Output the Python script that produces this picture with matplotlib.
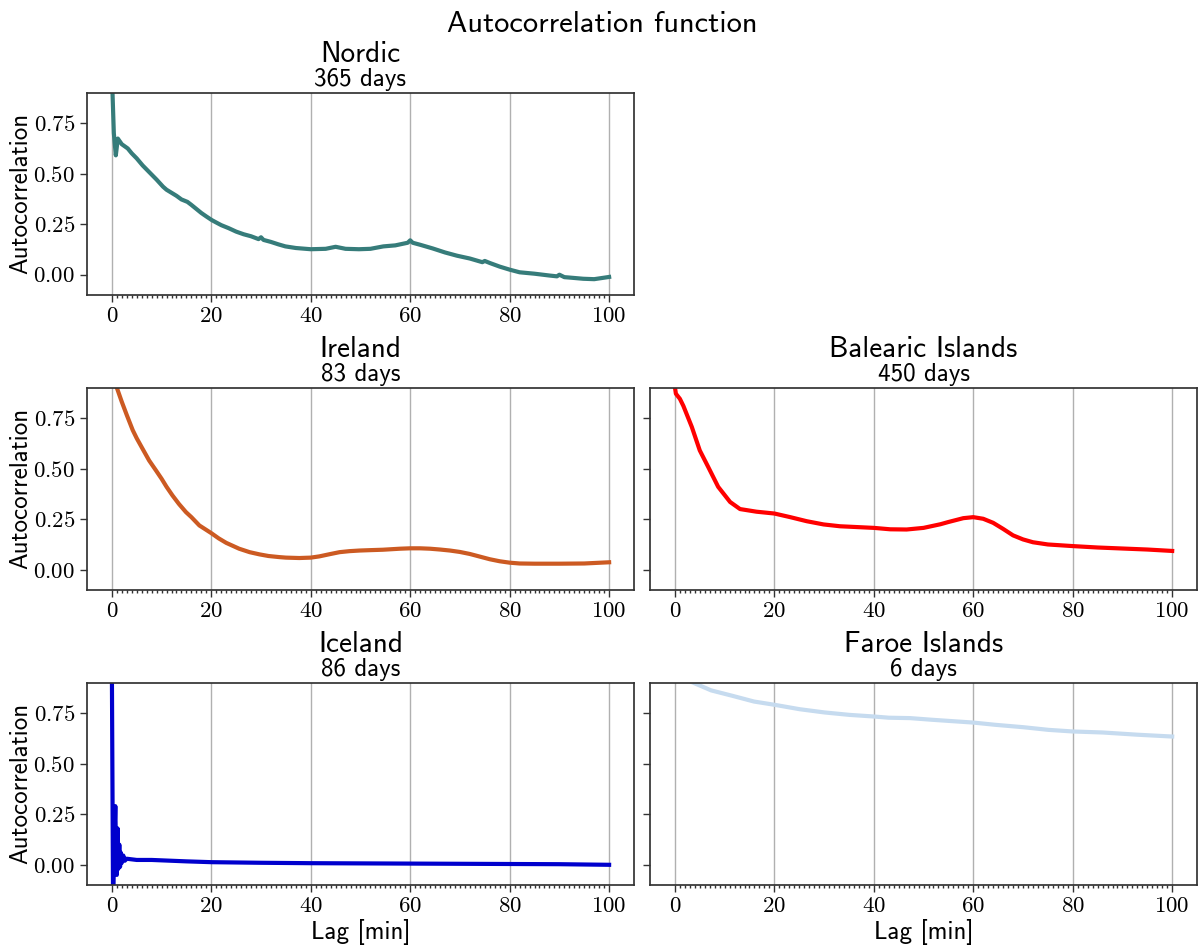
import numpy as np
import matplotlib
matplotlib.use('Agg')
import matplotlib.pyplot as plt
from matplotlib.ticker import MultipleLocator, FixedLocator

plt.rcParams['font.family'] = 'cmr10'
plt.rcParams['axes.formatter.use_mathtext'] = True
SANS = 'cmss10'

# ---- autocorrelation per area (lag in minutes)
nordic_lag = [0, 0.4, 0.8, 1.2, 2, 3.2, 4, 5, 6.2, 7, 8, 9, 10.3, 11, 12, 13, 14, 15.2, 16,
              17, 18, 19, 20.1, 21, 22, 23.5, 25, 26.5, 28, 29.5, 30, 30.5, 32, 33.5, 34.9,
              37, 40, 43, 45, 47, 49.7, 52, 54.6, 57, 59.5, 60, 60.5, 62, 64.5, 67, 69.4,
              72, 74.5, 75, 76, 78, 80, 82, 85, 88, 89.5, 90, 91, 92, 94.8, 97, 100]
nordic_acf = [1.0, 0.70, 0.59, 0.673, 0.645, 0.624, 0.60, 0.575, 0.54, 0.52, 0.495, 0.47,
              0.435, 0.42, 0.405, 0.39, 0.372, 0.36, 0.345, 0.325, 0.305, 0.288, 0.27, 0.258,
              0.245, 0.23, 0.213, 0.2, 0.19, 0.176, 0.185, 0.172, 0.162, 0.15, 0.14, 0.132,
              0.126, 0.128, 0.138, 0.128, 0.126, 0.128, 0.14, 0.145, 0.158, 0.17, 0.158,
              0.148, 0.13, 0.11, 0.094, 0.08, 0.062, 0.068, 0.058, 0.04, 0.025, 0.012, 0.005,
              -0.004, -0.008, 0.0, -0.012, -0.014, -0.02, -0.022, -0.011]

ireland_lag = [0, 1, 2, 3, 4.2, 5, 6.2, 7.5, 8.9, 10, 11, 12.2, 13.5, 14.9, 16, 17.6, 20,
               21.5, 23, 25.6, 27.7, 29.7, 31.5, 33.7, 35, 37.7, 40, 41.7, 44, 45.8, 47.8,
               49.8, 52, 54.5, 57.9, 60, 62, 64, 66, 68, 70, 72, 74, 76, 78, 80, 82, 85, 90,
               95, 100]
ireland_acf = [1.0, 0.9, 0.83, 0.765, 0.69, 0.65, 0.597, 0.54, 0.49, 0.45, 0.41, 0.367,
               0.325, 0.285, 0.26, 0.219, 0.181, 0.155, 0.133, 0.104, 0.087, 0.076, 0.068,
               0.0625, 0.06, 0.058, 0.06, 0.066, 0.078, 0.087, 0.092, 0.095, 0.097, 0.099,
               0.104, 0.106, 0.106, 0.104, 0.1, 0.095, 0.088, 0.078, 0.065, 0.052, 0.042,
               0.035, 0.031, 0.03, 0.03, 0.031, 0.037]

balearic_lag = [0, 0.2, 1, 1.7, 3.4, 5, 6.7, 8.7, 11.1, 13.1, 16.4, 20, 23.2, 26.5, 29.9,
                33.2, 40, 43.3, 46.6, 50, 53.4, 55, 58, 60, 62, 64, 66, 68, 70, 72, 75, 80,
                85, 90, 95, 100]
balearic_acf = [0.903, 0.87, 0.845, 0.81, 0.706, 0.59, 0.508, 0.41, 0.335, 0.30, 0.287, 0.278,
                0.26, 0.24, 0.224, 0.215, 0.207, 0.20, 0.199, 0.207, 0.225, 0.236, 0.255,
                0.26, 0.252, 0.232, 0.202, 0.17, 0.15, 0.136, 0.125, 0.117, 0.11, 0.105,
                0.1, 0.093]

iceland_lag = [0, 0.25, 0.5, 0.7, 0.85, 1.0, 1.15, 1.3, 1.5, 1.65, 1.8, 2.0, 2.3, 2.6, 3,
               5, 8, 10, 15, 20, 30, 40, 50, 60, 70, 80, 90, 100]
iceland_acf = [1.0, -0.2, 0.12, 0.29, 0.05, -0.05, 0.18, -0.02, 0.1, -0.01, 0.06, 0.01,
               0.046, 0.02, 0.03, 0.024, 0.024, 0.022, 0.017, 0.013, 0.01, 0.008, 0.007,
               0.006, 0.005, 0.004, 0.003, 0.0]

faroe_lag = [0, 1, 2, 3.4, 7.3, 11.6, 15.9, 20, 25.1, 30.1, 35.1, 40, 43, 47.3, 51.6, 60,
             64.4, 70.1, 75.1, 80, 86, 93, 100]
faroe_acf = [1.0, 0.96, 0.93, 0.903, 0.862, 0.835, 0.807, 0.791, 0.769, 0.753, 0.741, 0.733,
             0.727, 0.725, 0.717, 0.703, 0.692, 0.68, 0.667, 0.659, 0.654, 0.643, 0.634]

areas = ['Nordic', 'Ireland', 'Balearic Islands', 'Iceland', 'Faroe Islands']
days = [365, 83, 450, 86, 6]
colors = ['#367c7a', '#cc5a22', '#ff0000', '#0000cd', '#c6dbef']
lags = [nordic_lag, ireland_lag, balearic_lag, iceland_lag, faroe_lag]
acfs = [nordic_acf, ireland_acf, balearic_acf, iceland_acf, faroe_acf]

fig = plt.figure(figsize=(11.98, 9.49), dpi=100)

# panel slots (left, bottom) in figure fraction; top-right cell stays empty
W, H = 0.4566, 0.2132
slots = [(0.0726, 0.6892), (0.0726, 0.3783), (0.5426, 0.3783), (0.0726, 0.0674), (0.5426, 0.0674)]

axes = []
for i, (x0, y0) in enumerate(slots):
    ax = fig.add_axes([x0, y0, W, H], sharey=axes[0] if axes else None)
    axes.append(ax)
    ax.plot(lags[i], acfs[i], color=colors[i], lw=3, solid_joinstyle='round')
    ax.set_xlim(-5, 105)
    ax.set_ylim(-0.1, 0.9)
    ax.xaxis.set_major_locator(MultipleLocator(20))
    ax.xaxis.set_minor_locator(FixedLocator(np.arange(0, 101, 1)))
    ax.yaxis.set_major_locator(FixedLocator([0, 0.25, 0.5, 0.75]))
    ax.grid(axis='x', color='#b0b0b0', lw=1)
    ax.set_axisbelow(True)
    ax.tick_params(axis='both', which='major', labelsize=16.5, length=5, width=1, color='#333333')
    ax.tick_params(axis='x', which='minor', length=2.5, width=1, color='#333333')
    for s in ax.spines.values():
        s.set_color('#333333')
        s.set_linewidth(1.25)
    ax.set_title(f'{days[i]} days', fontsize=18, family=SANS, pad=5)
    ax.annotate(areas[i], xy=(0.5, 1), xycoords='axes fraction', xytext=(0, 22),
                textcoords='offset points', ha='center', va='baseline',
                fontsize=21, family=SANS)
    if x0 < 0.5:
        ax.set_ylabel('Autocorrelation', fontsize=18, family=SANS, labelpad=1)
    else:
        ax.tick_params(axis='y', labelleft=False)
    if y0 < 0.1:
        ax.set_xlabel('Lag [min]', fontsize=18, family=SANS, labelpad=2)

fig.suptitle('Autocorrelation function', fontsize=22, family=SANS, y=0.966, va='baseline', x=0.503)

fig.savefig('out.png', dpi=100)
